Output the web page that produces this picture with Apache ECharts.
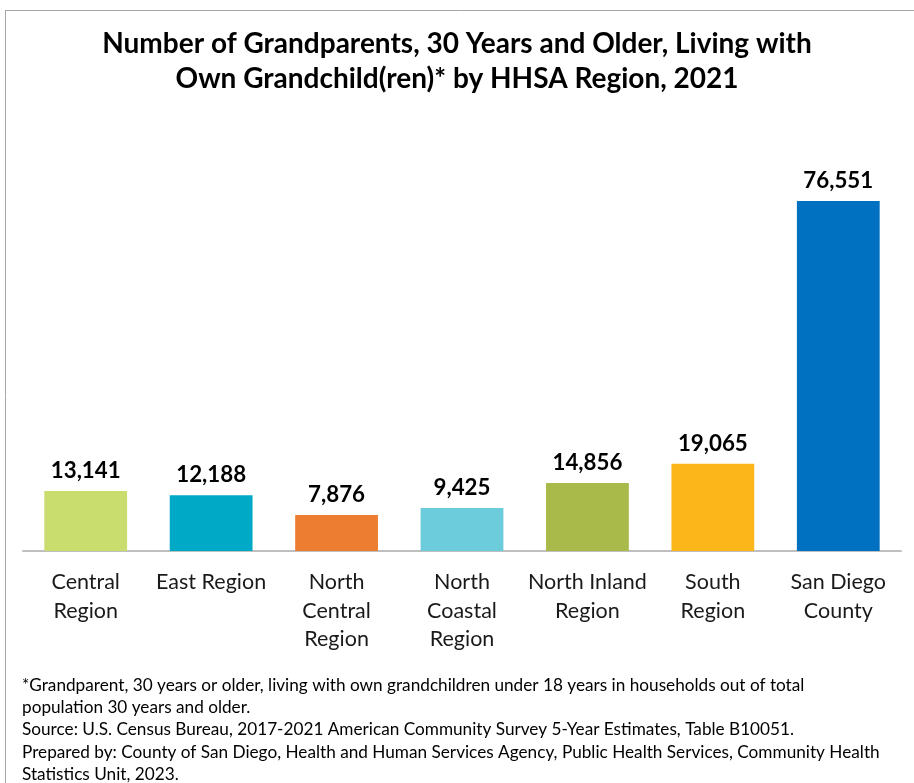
<!DOCTYPE html>
<html><head><meta charset="utf-8">
<script src="https://cdn.jsdelivr.net/npm/echarts@6/dist/echarts.min.js"></script>
<style>html,body{margin:0;padding:0;background:#fff}#c{width:914px;height:783px}</style>
</head><body><div id="c"></div>
<script>
const categories = ["Central\nRegion", "East Region", "North\nCentral\nRegion", "North\nCoastal\nRegion", "North Inland\nRegion", "South\nRegion", "San Diego\nCounty"];
const values = [13141, 12188, 7876, 9425, 14856, 19065, 76551];
const barColors = ["#C9DC6E", "#00A9C6", "#ED7D31", "#6CCCDC", "#A9BA4A", "#FCB61A", "#0070C0"];
const titleText = "Number of Grandparents, 30 Years and Older, Living with\nOwn Grandchild(ren)* by HHSA Region, 2021";
const footText = "*Grandparent, 30 years or older, living with own grandchildren under 18 years in households out of total\npopulation 30 years and older.\nSource: U.S. Census Bureau, 2017-2021 American Community Survey 5-Year Estimates, Table B10051.\nPrepared by: County of San Diego, Health and Human Services Agency, Public Health Services, Community Health\nStatistics Unit, 2023.";
const FONT = "Lato, sans-serif";
const chart = echarts.init(document.getElementById('c'));
chart.setOption({
  animation: false,
  title: {
    text: titleText, left: 'center', top: 21,
    textStyle: {fontFamily: FONT, fontSize: 28, fontWeight: 'bold', color: '#000', lineHeight: 35}
  },
  grid: {left: 23, right: 13, top: 139.5, bottom: 232},
  xAxis: {
    type: 'category', data: categories,
    axisLine: {lineStyle: {color: '#BFBFBF', width: 2}},
    axisTick: {show: false},
    axisLabel: {fontFamily: FONT, fontSize: 21.5, color: '#1a1a1a', lineHeight: 28.5, margin: 17, interval: 0}
  },
  yAxis: {type: 'value', min: 0, max: 90000, show: false, splitLine: {show: false}},
  series: [{
    type: 'bar', barWidth: '66%',
    data: values.map((v, i) => ({value: v, itemStyle: {color: barColors[i]}})),
    label: {
      show: true, position: 'top', distance: 9,
      fontFamily: FONT, fontSize: 22.3, fontWeight: 'bold', color: '#000',
      formatter: p => p.value.toLocaleString('en-US')
    }
  }],
  graphic: [
    {type: 'line', shape: {x1: 5, y1: 10.5, x2: 914, y2: 10.5}, style: {stroke: '#A6A6A6', lineWidth: 1}},
    {type: 'line', shape: {x1: 5.5, y1: 10, x2: 5.5, y2: 783}, style: {stroke: '#A6A6A6', lineWidth: 1}},
    {type: 'text', left: 22, top: 674, style: {text: footText, fontFamily: FONT, fontSize: 17.2, lineHeight: 22.3, fill: '#000'}}
  ]
});
</script></body></html>
